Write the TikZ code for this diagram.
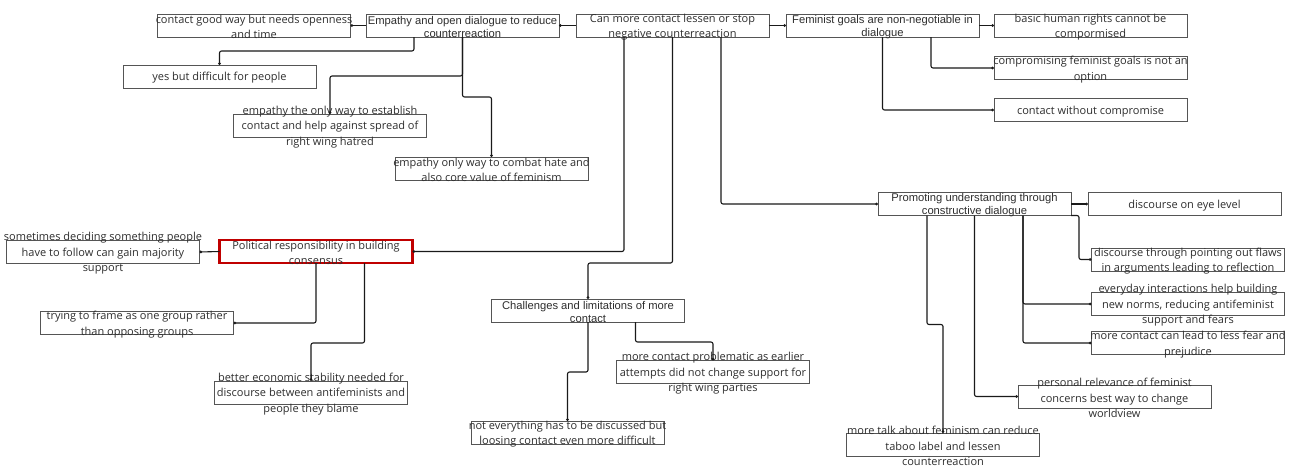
\documentclass[tikz,border=0pt]{standalone}
\usepackage{fontspec}
\usetikzlibrary{arrows.meta}
\newfontfamily\leaffont{Open Sans}
\newfontfamily\topicfont{Liberation Sans}
\definecolor{boxline}{HTML}{555555}
\definecolor{txt}{HTML}{2E2E2E}
\definecolor{focus}{HTML}{C00000}
\definecolor{wire}{HTML}{1A1A1A}
\tikzset{
  card/.style={draw=boxline, line width=0.9pt, minimum width=193pt, minimum height=23pt,
    inner sep=0pt, outer sep=0pt},
  focuscard/.style={card, draw=focus, line width=2.4pt},
  leaftxt/.style={text=txt, align=center, inner sep=0pt, yshift=-1.5pt,
    font=\leaffont\fontsize{11}{15.5}\selectfont},
  topictxt/.style={text=txt, align=center, inner sep=0pt, yshift=-1.2pt,
    font=\topicfont\fontsize{11.2}{13}\selectfont},
  conn/.style={draw=wire, line width=1.1pt, rounded corners=2pt, -{Circle[length=2.6pt]}},
}
\begin{document}
\begin{tikzpicture}[x=1pt, y=-1pt]
\fill[white] (0,0) rectangle (1301,469);
\useasboundingbox (0,0) rectangle (1301,469);

% central question and first-level topics
\node[card, label={[leaftxt]center:{Can more contact lessen or stop\\negative counterreaction}}] (C) at (672.5,25.5) {};
\node[card, label={[topictxt]center:{Empathy and open dialogue to reduce\\counterreaction}}] (B) at (462.5,25.5) {};
\node[card, label={[topictxt]center:{Feminist goals are non-negotiable in\\dialogue}}] (D) at (882.5,25.5) {};
\node[focuscard, label={[leaftxt]center:{Political responsibility in building\\consensus}}] (K) at (316,251.5) {};
\node[card, label={[topictxt]center:{Challenges and limitations of more\\contact}}] (O) at (588,310.5) {};
\node[card, label={[topictxt]center:{Promoting understanding through\\constructive dialogue}}] (R) at (974.5,204) {};

% empathy branch
\node[card, label={[leaftxt]center:{contact good way but needs openness\\and time}}] (A) at (254,25.5) {};
\node[card, label={[leaftxt]center:{yes but difficult for people}}] (H) at (219.5,76.5) {};
\node[card, label={[leaftxt]center:{empathy the only way to establish\\contact and help against spread of\\right wing hatred}}] (I) at (330,125.5) {};
\node[card, label={[leaftxt]center:{empathy only way to combat hate and\\also core value of feminism}}] (J) at (491.5,168.5) {};

% feminist goals branch
\node[card, label={[leaftxt]center:{basic human rights cannot be\\compormised}}] (E) at (1090.5,25.5) {};
\node[card, label={[leaftxt]center:{compromising feminist goals is not an\\option}}] (F) at (1090.5,68) {};
\node[card, label={[leaftxt]center:{contact without compromise}}] (G) at (1090.5,110) {};

% political responsibility branch
\node[card, label={[leaftxt]center:{sometimes deciding something people\\have to follow can gain majority\\support}}] (L) at (103,252) {};
\node[card, label={[leaftxt]center:{trying to frame as one group rather\\than opposing groups}}] (M) at (137,323) {};
\node[card, label={[leaftxt]center:{better economic stability needed for\\discourse between antifeminists and\\people they blame}}] (N) at (311,392.5) {};

% challenges branch
\node[card, label={[leaftxt]center:{more contact problematic as earlier\\attempts did not change support for\\right wing parties}}] (P) at (713,372) {};
\node[card, label={[leaftxt]center:{not everything has to be discussed but\\loosing contact even more difficult}}] (Q) at (567.5,432.5) {};

% constructive dialogue branch
\node[card, label={[leaftxt]center:{discourse on eye level}}] (S) at (1184.5,204) {};
\node[card, label={[leaftxt]center:{discourse through pointing out flaws\\in arguments leading to reflection}}] (T) at (1188,259.5) {};
\node[card, label={[leaftxt]center:{everyday interactions help building\\new norms, reducing antifeminist\\support and fears}}] (U) at (1188,304) {};
\node[card, label={[leaftxt]center:{more contact can lead to less fear and\\prejudice}}] (V) at (1188,343) {};
\node[card, label={[leaftxt]center:{personal relevance of feminist\\concerns best way to change\\worldview}}] (W) at (1114.5,396.5) {};
\node[card, label={[leaftxt]center:{more talk about feminism can reduce\\taboo label and lessen\\counterreaction}}] (X) at (943,444.5) {};

% connectors
\draw[conn] (C.west) -- (B.east);
\draw[conn] (C.east) -- (D.west);
\draw[conn] ([xshift=48pt]C.south west) |- (K.east);
\draw[conn] (C.south) -- ++(0,226) -| (O.north);
\draw[conn] ([xshift=145pt]C.south west) |- (R.west);

\draw[conn] (B.west) -- (A.east);
\draw[conn] ([xshift=48pt]B.south west) -- ++(0,14) -| (H.north);
\draw[conn] (B.south) -- ++(0,39) -| (I.north);
\draw[conn] (B.south) -- ++(0,60) -| (J.north);

\draw[conn] (D.east) -- (E.west);
\draw[conn] ([xshift=145pt]D.south west) |- (F.west);
\draw[conn] (D.south) |- (G.west);

\draw[conn] (K.west) -- (L.east);
\draw[conn] (K.south) |- (M.east);
\draw[conn] ([xshift=145pt]K.south west) -- ++(0,80) -| (N.north);

\draw[conn] (O.south) -- ++(0,50) -| (Q.north);
\draw[conn] ([xshift=144pt]O.south west) -- ++(0,20) -| (P.north);

\draw[conn] (R.east) -- (S.west);
\draw[conn] (R.south east) -- ++(8,0) |- (T.west);
\draw[conn] ([xshift=145pt]R.south west) |- (U.west);
\draw[conn] ([xshift=145pt]R.south west) |- (V.west);
\draw[conn] (R.south) |- (W.west);
\draw[conn] ([xshift=49pt]R.south west) -- ++(0,109) -| (X.north);
\end{tikzpicture}
\end{document}
